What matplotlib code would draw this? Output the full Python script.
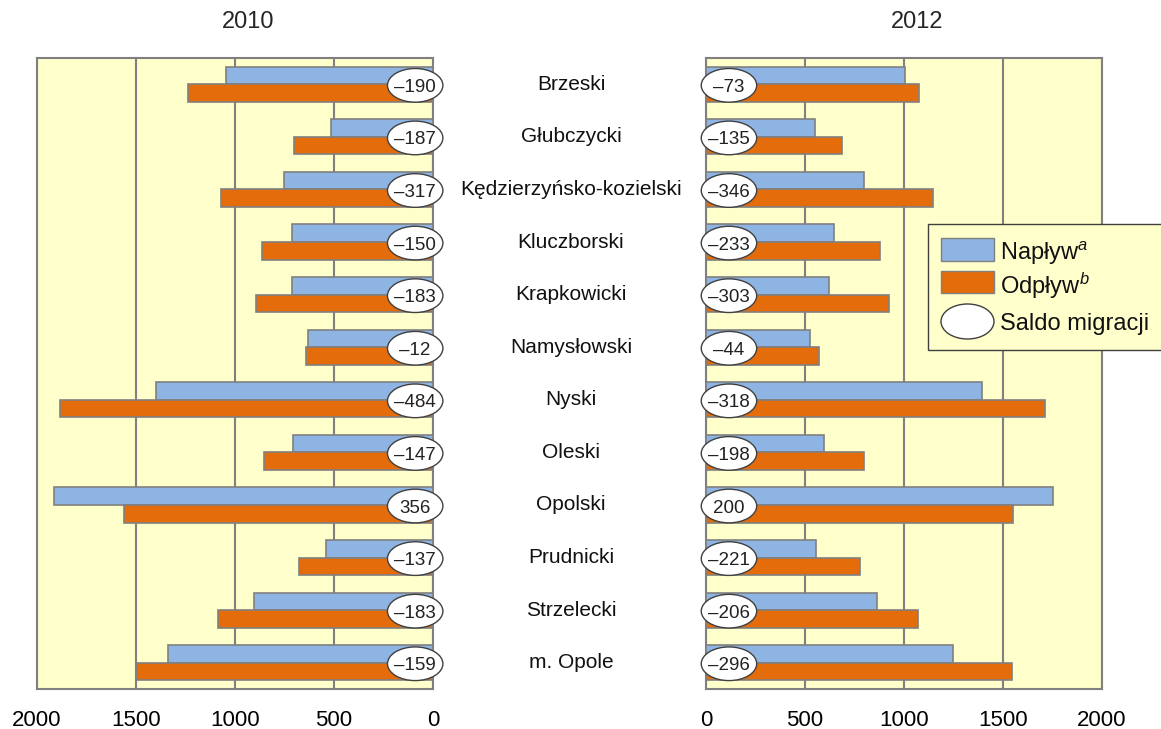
import numpy as np
import matplotlib
matplotlib.use('Agg')
import matplotlib.pyplot as plt
from matplotlib.patches import Ellipse, Rectangle

plt.rcParams['font.family'] = ['Liberation Sans', 'DejaVu Sans']
plt.rcParams['mathtext.fontset'] = 'custom'
plt.rcParams['mathtext.it'] = 'Liberation Sans:italic'
plt.rcParams['mathtext.rm'] = 'Liberation Sans'

powiaty = ['Brzeski', 'Głubczycki', 'Kędzierzyńsko-kozielski', 'Kluczborski',
           'Krapkowicki', 'Namysłowski', 'Nyski', 'Oleski', 'Opolski',
           'Prudnicki', 'Strzelecki', 'm. Opole']

# 2010
naplyw_2010 = [1045, 515, 754, 712, 711, 629, 1400, 706, 1916, 540, 903, 1338]
odplyw_2010 = [1235, 702, 1071, 862, 894, 641, 1884, 853, 1560, 677, 1086, 1497]
saldo_2010 = [-190, -187, -317, -150, -183, -12, -484, -147, 356, -137, -183, -159]

# 2012
naplyw_2012 = [1003, 552, 800, 644, 621, 526, 1394, 598, 1750, 556, 865, 1249]
odplyw_2012 = [1076, 687, 1146, 877, 924, 570, 1712, 796, 1550, 777, 1071, 1545]
saldo_2012 = [-73, -135, -346, -233, -303, -44, -318, -198, 200, -221, -206, -296]

ticks = [0, 500, 1000, 1500, 2000]

c_in = '#8EB4E3'
c_out = '#E46C0A'
c_bg = '#FFFFCC'
c_grid = '#808080'

W, H = 1161, 729


def px(x, y):
    # piksele (od lewej, od gory) -> ulamek figury
    return x / W, 1 - y / H


def fmt(v):
    return str(v).replace('-', '\u2013')


fig = plt.figure(figsize=(W / 100, H / 100), dpi=100)
ax1 = fig.add_axes([37 / W, 40 / H, 396 / W, 631 / H])
ax2 = fig.add_axes([706 / W, 40 / H, 396 / W, 631 / H])

y = np.arange(len(powiaty))
h = 0.335

for ax, nap, odp, sal, title, ex in [
        (ax1, naplyw_2010, odplyw_2010, saldo_2010, '2010', 90),
        (ax2, naplyw_2012, odplyw_2012, saldo_2012, '2012', 116)]:
    ax.set_facecolor(c_bg)
    ax.barh(y - h / 2, nap, height=h, color=c_in, edgecolor=c_grid, linewidth=1.2, zorder=3)
    ax.barh(y + h / 2, odp, height=h, color=c_out, edgecolor=c_grid, linewidth=1.2, zorder=3)
    for yi, s in zip(y, sal):
        e = Ellipse((ex, yi + 0.02), 280, 0.64, facecolor='white', edgecolor='#404040',
                    linewidth=1, zorder=5, clip_on=False)
        ax.add_patch(e)
        ax.text(ex, yi + 0.02, fmt(s), ha='center', va='center_baseline', fontsize=13.5,
                color='#222222', zorder=6)
    ax.set_xlim(0, 2000)
    ax.set_ylim(len(powiaty) - 0.5, -0.5)
    ax.set_xticks(ticks)
    ax.set_xticklabels([str(t) for t in ticks], fontsize=16)
    ax.set_yticks([])
    ax.tick_params(axis='x', length=0, pad=15)
    ax.grid(axis='x', color=c_grid, linewidth=1.5, zorder=1)
    for sp in ax.spines.values():
        sp.set_color(c_grid)
        sp.set_linewidth(1.5)
    ax.text(0.5, 1, title, transform=ax.transAxes, ha='center', va='bottom',
            fontsize=17, color='#262626')
    ax.title.set_visible(False)

ax1.invert_xaxis()
# tytuly lat
for t in ax1.texts[-1:] + ax2.texts[-1:]:
    t.set_position((0.533, 1.04))

for yi, name in zip(y, powiaty):
    ax1.annotate(name, xy=(0, yi), xycoords=('axes fraction', 'data'),
                 xytext=(571 / W, 0), textcoords=('figure fraction', 'offset points'),
                 ha='center', va='center', fontsize=15, color='#111111')

# legenda
x0, y0 = px(928, 350)
x1, y1 = px(1180, 224)
fig.add_artist(Rectangle((x0, y0), x1 - x0, y1 - y0, transform=fig.transFigure,
                         facecolor=c_bg, edgecolor='#404040', linewidth=1, clip_on=False))
for (ya, yb), col in [((238, 261), c_in), ((271, 293), c_out)]:
    a0, b0 = px(941, yb)
    a1, b1 = px(994, ya)
    fig.add_artist(Rectangle((a0, b0), a1 - a0, b1 - b0, transform=fig.transFigure,
                             facecolor=col, edgecolor=c_grid, linewidth=1))
cx, cy = px(967.5, 321.5)
fig.add_artist(Ellipse((cx, cy), 53 / W, 35 / H, transform=fig.transFigure,
                       facecolor='white', edgecolor='#404040', linewidth=1))
for ty, lab in [(250, 'Napływ$^a$'), (282, 'Odpływ$^b$'), (321.5, 'Saldo migracji')]:
    tx, tyf = px(1000, ty)
    fig.text(tx, tyf, lab, ha='left', va='center_baseline', fontsize=17, color='#111111')

fig.savefig('out.png', dpi=100)
